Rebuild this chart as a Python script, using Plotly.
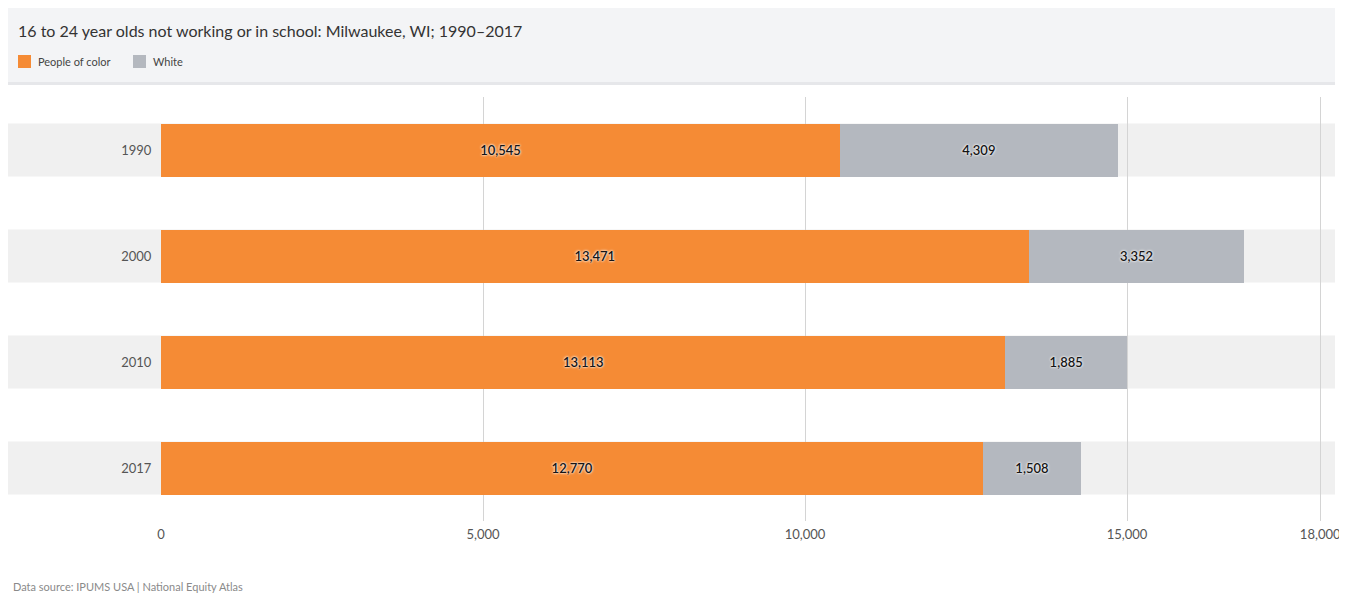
import plotly.graph_objects as go

years = ["1990", "2000", "2010", "2017"]
people_of_color = [10545, 13471, 13113, 12770]
white = [4309, 3352, 1885, 1508]
x_ticks = [0, 5000, 10000, 15000, 18000]
x_tick_labels = ["0", "5,000", "10,000", "15,000", "18,000"]
series_names = ["People of color", "White"]
series_colors = ["#F58B35", "#B4B8BF"]

OFF = 8  # page body margin
W, H = 1347 - OFF, 597 - OFF
L, R, T, B = 161 - OFF, 12, 97 - OFF, 76
pw = W - L - R
ph = H - T - B


def px_x(p):
    return (p - OFF - L) / pw


def px_y(p):
    return (H - B - (p - OFF)) / ph


ypos = list(range(len(years)))
font_family = "Lato, Inter, 'Noto Sans', sans-serif"
label_font = dict(family=font_family, size=13, color="#151515", weight=600,
                  shadow="0px 0px 2px white, 0px 0px 3px white")

fig = go.Figure()
for vals, name, col in [(people_of_color, series_names[0], series_colors[0]),
                        (white, series_names[1], series_colors[1])]:
    fig.add_trace(go.Bar(
        y=ypos, x=vals, orientation="h", name=name,
        marker=dict(color=col, line=dict(width=0)), width=0.5,
        text=[f"{v:,}" for v in vals], textposition="inside",
        insidetextanchor="middle", textfont=label_font,
        hoverinfo="skip", showlegend=False,
    ))

shapes = []
for i in ypos:
    shapes.append(dict(type="rect", xref="paper", yref="y",
                       x0=px_x(5), x1=px_x(1335), y0=i - 0.25, y1=i + 0.25,
                       fillcolor="#F0F0F0", line=dict(width=0), layer="below"))
# header background
shapes.append(dict(type="rect", xref="paper", yref="paper",
                   x0=px_x(5), x1=px_x(1335), y0=px_y(85), y1=px_y(82),
                   fillcolor="#E6E7EA", line=dict(width=0), layer="below"))
shapes.append(dict(type="rect", xref="paper", yref="paper",
                   x0=px_x(5), x1=px_x(1335), y0=px_y(82), y1=px_y(5),
                   fillcolor="#F3F4F6", line=dict(width=0), layer="below"))

annotations = []
# legend (manual)
legend_x = [18, 133]
for lx, name, col in zip(legend_x, series_names, series_colors):
    shapes.append(dict(type="rect", xref="paper", yref="paper",
                       x0=px_x(lx), x1=px_x(lx + 13), y0=px_y(68), y1=px_y(55),
                       fillcolor=col, line=dict(width=0), layer="above"))
    annotations.append(dict(text=name, xref="paper", yref="paper",
                            x=px_x(lx + 18), y=px_y(61.5), xanchor="left", yanchor="middle",
                            showarrow=False, font=dict(size=11, color="#444444")))

annotations.append(dict(text="Data source: IPUMS USA | National Equity Atlas",
                        xref="paper", yref="paper", x=px_x(11), y=px_y(586),
                        xanchor="left", yanchor="middle", showarrow=False,
                        font=dict(size=11, color="#8A8A8A")))

fig.update_layout(
    width=W, height=H,
    margin=dict(l=L, r=R, t=T, b=B, pad=0, autoexpand=False),
    paper_bgcolor="white", plot_bgcolor="white",
    barmode="stack",
    font=dict(family=font_family, color="#555555"),
    title=dict(text="16 to 24 year olds not working or in school: Milwaukee, WI; 1990–2017",
               x=(18 - OFF) / W, xanchor="left", xref="container",
               y=1 - (31 - OFF) / H, yanchor="middle", yref="container",
               font=dict(size=16, color="#333333", family=font_family)),
    showlegend=False,
    shapes=shapes,
    annotations=annotations,
)
fig.update_xaxes(range=[0, pw / 322 * 5000], tickvals=x_ticks, ticktext=x_tick_labels,
                 showgrid=True, gridcolor="#D4D4D4", gridwidth=1,
                 zeroline=False, showline=False, automargin=False,
                 ticks="outside", ticklen=1, tickcolor="rgba(0,0,0,0)",
                 tickfont=dict(size=13, color="#555555"))
fig.update_yaxes(range=[3.5, -0.5], tickvals=ypos, ticktext=years,
                 showgrid=False, zeroline=False, showline=False, automargin=False,
                 ticks="outside", ticklen=6, tickcolor="rgba(0,0,0,0)",
                 tickfont=dict(size=13, color="#555555"))

fig.write_html("out.html")
